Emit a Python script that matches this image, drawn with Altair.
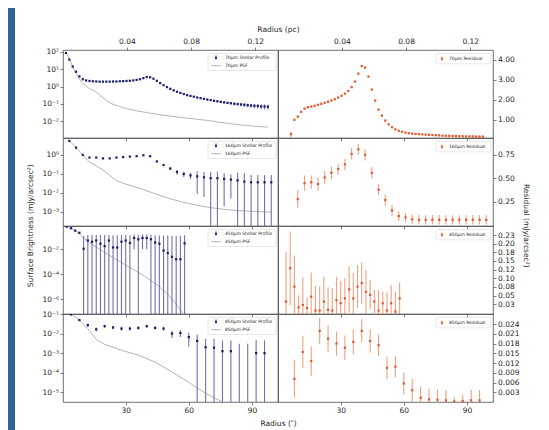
import altair as alt
import pandas as pd

# ---------------- data ----------------
X70 = [1.6, 3.2, 4.8, 6.4, 8.0, 9.6, 11.2, 12.8, 14.4, 16.0, 17.6, 19.2, 20.8, 22.4, 24.0,
       25.6, 27.2, 28.8, 30.4, 32.0, 33.6, 35.2, 36.8, 38.4, 40.0, 41.6, 43.2, 44.8, 46.4,
       48.0, 49.6, 51.2, 52.8, 54.4, 56.0, 57.6, 59.2, 60.8, 62.4, 64.0, 65.6, 67.2, 68.8,
       70.4, 72.0, 73.6, 75.2, 76.8, 78.4, 80.0, 81.6, 83.2, 84.8, 86.4, 88.0, 89.6, 91.2,
       92.8, 94.4, 96.0, 97.6]
S70 = [85.1, 35.5, 14.1, 7.08, 3.80, 2.63, 2.24, 2.09, 2.00, 1.95, 1.91, 1.91, 1.91, 1.91,
       1.95, 1.95, 2.00, 2.04, 2.09, 2.14, 2.24, 2.40, 2.63, 3.02, 3.47, 3.39, 2.82, 2.14,
       1.58, 1.20, 0.93, 0.74, 0.60, 0.50, 0.43, 0.37, 0.32, 0.29, 0.26, 0.234, 0.214, 0.195,
       0.178, 0.166, 0.151, 0.141, 0.132, 0.123, 0.115, 0.110, 0.102, 0.098, 0.093, 0.089,
       0.085, 0.081, 0.078, 0.076, 0.072, 0.071, 0.069]
E70 = [1.5, 0.7, 0.3, 0.15, 0.08, 0.05, 0.04, 0.04, 0.04, 0.04, 0.04, 0.04, 0.04, 0.04,
       0.04, 0.04, 0.04, 0.04, 0.04, 0.04, 0.04, 0.05, 0.05, 0.06, 0.07, 0.07, 0.06, 0.05,
       0.04, 0.03, 0.03, 0.02, 0.02, 0.02, 0.015, 0.015, 0.015, 0.013, 0.013, 0.013, 0.014,
       0.014, 0.014, 0.015, 0.015, 0.016, 0.016, 0.017, 0.017, 0.018, 0.018, 0.019, 0.019,
       0.02, 0.02, 0.021, 0.021, 0.022, 0.022, 0.023, 0.023]
PSF70_X = [1.6, 3.2, 4.8, 6.4, 8.0, 9.6, 11.2, 12.8, 14.4, 16.0, 17.6, 19.2, 20.8, 22.4,
           24.0, 27.2, 30.4, 35.2, 40.0, 46.4, 54.4, 62.4, 70.4, 78.4, 86.4, 94.4, 97.6]
PSF70 = [89, 40, 14.1, 5.6, 2.63, 1.51, 1.05, 0.76, 0.63, 0.48, 0.33, 0.224, 0.158, 0.12,
         0.095, 0.071, 0.054, 0.040, 0.032, 0.024, 0.0178, 0.0138, 0.0107, 0.0076, 0.0059,
         0.0049, 0.0046]
R70 = [0.27, 0.99, 1.15, 1.39, 1.55, 1.62, 1.65, 1.69, 1.74, 1.79, 1.84, 1.89, 1.95, 2.02,
       2.10, 2.19, 2.30, 2.43, 2.62, 2.90, 3.30, 3.68, 3.60, 3.15, 2.50, 1.95, 1.50, 1.20,
       0.95, 0.76, 0.62, 0.51, 0.44, 0.39, 0.35, 0.32, 0.30, 0.28, 0.27, 0.26, 0.25, 0.24,
       0.23, 0.22, 0.21, 0.20, 0.19, 0.19, 0.18, 0.18, 0.17, 0.17, 0.16, 0.16, 0.16, 0.15,
       0.15, 0.15]
RE70 = [0.15, 0.06, 0.05, 0.04, 0.04, 0.03, 0.03, 0.03, 0.03, 0.03, 0.03, 0.03, 0.03, 0.03,
        0.03, 0.03, 0.03, 0.03, 0.03, 0.03, 0.03, 0.04, 0.04, 0.03, 0.03, 0.03, 0.03, 0.03,
        0.03, 0.03, 0.03, 0.03, 0.03, 0.03, 0.03, 0.03, 0.03, 0.03, 0.03, 0.03, 0.03, 0.03,
        0.03, 0.03, 0.03, 0.03, 0.03, 0.03, 0.04, 0.04, 0.04, 0.04, 0.04, 0.04, 0.04, 0.04,
        0.04, 0.04]

X160 = [3.2, 6.4, 9.6, 12.8, 16.0, 19.2, 22.4, 25.6, 28.8, 32.0, 35.2, 38.4, 41.6, 44.8,
        48.0, 51.2, 54.4, 57.6, 60.8, 64.0, 67.2, 70.4, 73.6, 76.8, 80.0, 83.2, 86.4, 89.6,
        92.8, 96.0, 99.2]
S160 = [5.4, 2.4, 1.0, 0.72, 0.72, 0.65, 0.65, 0.72, 0.76, 0.81, 0.85, 0.95, 0.85, 0.45,
        0.29, 0.19, 0.125, 0.098, 0.083, 0.074, 0.066, 0.059, 0.059, 0.054, 0.050, 0.045,
        0.039, 0.036, 0.036, 0.036, 0.036]
E160 = [0.15, 0.07, 0.03, 0.02, 0.02, 0.02, 0.02, 0.02, 0.02, 0.02, 0.03, 0.03, 0.03, 0.03,
        0.03, 0.03, 0.035, 0.03, 0.03, 0.065, 0.06, 0.07, 0.07, 0.052, 0.045, 0.07, 0.07,
        0.05, 0.05, 0.05, 0.05]
PSF160_X = [3.2, 6.4, 9.6, 12.8, 16.0, 19.2, 22.4, 25.6, 28.8, 32.0, 38.4, 44.8, 51.2, 57.6,
            64.0, 70.4, 76.8, 83.2, 89.6, 96.0, 99.2]
PSF160 = [5.6, 2.5, 1.0, 0.42, 0.26, 0.16, 0.083, 0.044, 0.032, 0.025, 0.015, 0.0083,
          0.0048, 0.0032, 0.0022, 0.00166, 0.00135, 0.00117, 0.00107, 0.0010, 0.00098]
R160 = [0.28, 0.45, 0.46, 0.44, 0.51, 0.56, 0.60, 0.65, 0.76, 0.81, 0.75, 0.56, 0.38, 0.27,
        0.16, 0.10, 0.085, 0.065, 0.06, 0.06, 0.06, 0.06, 0.06, 0.06, 0.06, 0.06, 0.06, 0.06,
        0.06]
RE160 = [0.095, 0.08, 0.07, 0.07, 0.07, 0.07, 0.06, 0.06, 0.06, 0.06, 0.06, 0.06, 0.06,
         0.06, 0.06, 0.05, 0.05, 0.05, 0.05, 0.05, 0.05, 0.05, 0.05, 0.05, 0.05, 0.05, 0.05,
         0.05, 0.05]

X450 = [2, 4, 6, 8, 10, 12, 14, 16, 18, 20, 22, 24, 26, 28, 30, 32, 34, 36, 38, 40, 42, 44,
        46, 48, 50, 52, 54, 56, 58]
S450 = [0.65, 0.48, 0.31, 0.21, 0.011, 0.05, 0.04, 0.05, 0.028, 0.018, 0.05, 0.014, 0.014,
        0.04, 0.05, 0.032, 0.08, 0.063, 0.08, 0.08, 0.063, 0.035, 0.028, 0.008, 0.005,
        0.0025, 0.0016, 0.0016, 0.03]
E450 = [0.03, 0.03, 0.02, 0.02, 0.11, 0.09, 0.1, 0.09, 0.11, 0.12, 0.09, 0.12, 0.12, 0.1,
        0.09, 0.1, 0.07, 0.08, 0.07, 0.07, 0.08, 0.1, 0.1, 0.12, 0.12, 0.12, 0.12, 0.12, 0.1]
PSF450_X = [2, 4, 6, 8, 10, 14, 18, 22, 26, 30, 34, 38, 42, 46, 50, 54, 58]
PSF450 = [0.71, 0.5, 0.32, 0.18, 0.079, 0.025, 0.0089, 0.0035, 0.0014, 5.6e-4, 2.2e-4,
          8.9e-5, 3.2e-5, 1.0e-5, 2.5e-6, 4.0e-7, 5.0e-8]
R450 = [0.033, 0.129, 0.076, 0.016, 0.023, 0.014, 0.047, 0.007, 0.007, 0.033, 0.009, 0.007,
        0.037, 0.028, 0.042, 0.068, 0.042, 0.076, 0.086, 0.061, 0.052, 0.033, 0.007, 0.028,
        0.007, 0.028, 0.004, 0.042]
RE450 = [0.144, 0.106, 0.09, 0.035, 0.08, 0.031, 0.07, 0.071, 0.07, 0.072, 0.065, 0.065,
         0.068, 0.064, 0.058, 0.066, 0.073, 0.062, 0.06, 0.063, 0.043, 0.033, 0.06, 0.033,
         0.052, 0.053, 0.057, 0.045]

X850 = [4, 8, 12, 16, 20, 24, 28, 32, 36, 40, 44, 48, 52, 56, 60, 64, 68, 72, 76, 80, 84,
        88, 92, 96]
S850 = [0.095, 0.049, 0.027, 0.0166, 0.024, 0.0204, 0.018, 0.018, 0.0195, 0.024, 0.0195,
        0.018, 0.010, 0.0107, 0.0066, 0.0042, 0.002, 0.0019, 0.00126, 0.00126, -0.0004,
        -0.0004, 0.001, 0.001]
E850 = [0.006, 0.004, 0.005, 0.004, 0.004, 0.004, 0.004, 0.004, 0.004, 0.004, 0.004, 0.004,
        0.004, 0.004, 0.0045, 0.0046, 0.0035, 0.0036, 0.0032, 0.0032, 0.0034, 0.0034,
        0.0035, 0.0035]
PSF850_X = [4, 8, 12, 16, 20, 24, 28, 36, 44, 52, 60, 68, 76, 80]
PSF850 = [0.1, 0.05, 0.0178, 0.005, 0.0028, 0.002, 0.0014, 0.0008, 0.00035, 0.00011,
          3.2e-5, 8.9e-6, 3.2e-6, 1.6e-6]
R850 = [0.0071, 0.0154, 0.0126, 0.0219, 0.0195, 0.018, 0.0167, 0.0185, 0.0219, 0.0188,
        0.0175, 0.0105, 0.0109, 0.0057, 0.0036, 0.0013, 0.0008, 0.0007, 0.0005, 0.0002,
        0.0003, 0.0005, 0.0005]
RE850 = [0.0058, 0.005, 0.0045, 0.004, 0.0041, 0.0037, 0.0038, 0.0038, 0.0036, 0.0036,
         0.0034, 0.0034, 0.0033, 0.0034, 0.0035, 0.0035, 0.0033, 0.0032, 0.0032, 0.0013,
         0.002, 0.0032, 0.0032]

X_TICKS = [30, 60, 90]
PC_TICKS = [0.04, 0.08, 0.12]
SUP_LABELS = ['10⁻⁷', '10⁻⁶', '10⁻⁵', '10⁻⁴', '10⁻³', '10⁻²', '10⁻¹', '10⁰', '10¹', '10²']
R450_TICK_LABELS = ['0.03', '0.05', '0.08', '0.10', '0.12', '0.15', '0.18', '0.20', '0.23']

# ---------------- styling ----------------
FONT = "DejaVu Sans"
NAVY = "#1d1d6e"
NAVY_BAR = "#7070b0"
ORANGE = "#e4572e"
ORANGE_BAR = "#f2a07e"
PSF_GRAY = "#b5b5b5"
BLUE_BG = "#2d6496"
TXT = "#262626"
X_DOMAIN = [0.2, 102.4]
PC_PER_ARCSEC = 0.00131
PC_DOMAIN = [X_DOMAIN[0] * PC_PER_ARCSEC, X_DOMAIN[1] * PC_PER_ARCSEC]
W, H = 215, 88

SUP_EXPR = "[" + ",".join("'%s'" % s for s in SUP_LABELS) + "][round(log(datum.value)/LN10)+7]"
R450_EXPR = "[" + ",".join("'%s'" % s for s in R450_TICK_LABELS) + "][round(datum.value*40)-1]"


def xenc(show_labels):
    return alt.X('x:Q', scale=alt.Scale(domain=X_DOMAIN, nice=False, zero=False),
                 axis=alt.Axis(values=X_TICKS, labels=show_labels, title=None, orient='bottom'))


def top_axis_layer():
    mid = [(PC_DOMAIN[0] + PC_DOMAIN[1]) / 2]
    return alt.Chart(pd.DataFrame({'pc': mid})).mark_point(opacity=0, size=1).encode(
        x=alt.X('pc:Q', scale=alt.Scale(domain=PC_DOMAIN, nice=False, zero=False),
                axis=alt.Axis(orient='top', values=PC_TICKS, format='.2f', title=None)))


def one_row():
    return alt.Chart(pd.DataFrame({'k': [0]}))


def legend_left(lab1, lab2):
    b = one_row()
    return [
        b.mark_rect(fill='white', stroke='#d6d6d6', strokeWidth=0.6, cornerRadius=1.5).encode(
            x=alt.value(145), x2=alt.value(213), y=alt.value(3.5), y2=alt.value(20.5)),
        b.mark_rule(color=NAVY_BAR, strokeWidth=1).encode(
            x=alt.value(153), y=alt.value(5.2), y2=alt.value(10.2)),
        b.mark_square(color=NAVY, size=4, opacity=1).encode(x=alt.value(153), y=alt.value(7.7)),
        b.mark_rule(color=PSF_GRAY, strokeWidth=1).encode(
            x=alt.value(148), x2=alt.value(158), y=alt.value(15.7)),
        b.mark_text(align='left', baseline='middle', fontSize=4.5, font=FONT, color=TXT).encode(
            x=alt.value(162), y=alt.value(7.7), text=alt.value(lab1)),
        b.mark_text(align='left', baseline='middle', fontSize=4.5, font=FONT, color=TXT).encode(
            x=alt.value(162), y=alt.value(15.7), text=alt.value(lab2)),
    ]


def legend_right(lab):
    b = one_row()
    return [
        b.mark_rect(fill='white', stroke='#d6d6d6', strokeWidth=0.6, cornerRadius=1.5).encode(
            x=alt.value(158), x2=alt.value(213), y=alt.value(3.5), y2=alt.value(13.8)),
        b.mark_rule(color=ORANGE_BAR, strokeWidth=1).encode(
            x=alt.value(164), y=alt.value(6.2), y2=alt.value(11.2)),
        b.mark_square(color=ORANGE, size=4, opacity=1).encode(x=alt.value(164), y=alt.value(8.7)),
        b.mark_text(align='left', baseline='middle', fontSize=4.5, font=FONT, color=TXT).encode(
            x=alt.value(171), y=alt.value(8.7), text=alt.value(lab)),
    ]


def left_panel(lab, xs, vals, errs, px, pv, ydom, yticks, top, bottom):
    df = pd.DataFrame({'x': xs, 'v': vals, 'e': errs})
    df['hi'] = (df['v'] + df['e']).clip(upper=ydom[1])
    df['lo'] = (df['v'] - df['e']).clip(lower=ydom[0])
    pts = df[df['v'] > 0]
    psf = pd.DataFrame({'x': px, 'v': pv})
    ysc = alt.Scale(type='log', domain=ydom, nice=False)
    yax = alt.Axis(orient='left', values=yticks, labelExpr=SUP_EXPR, title=None)
    bars = alt.Chart(df).mark_rule(color=NAVY_BAR, strokeWidth=1.1, clip=True).encode(
        x=xenc(bottom), y=alt.Y('lo:Q', scale=ysc, axis=yax), y2='hi:Q')
    dots = alt.Chart(pts).mark_square(color=NAVY, size=5, opacity=1, clip=True).encode(
        x=xenc(bottom), y=alt.Y('v:Q', scale=ysc, axis=yax))
    line = alt.Chart(psf).mark_line(color=PSF_GRAY, strokeWidth=1, clip=True).encode(
        x=xenc(bottom), y=alt.Y('v:Q', scale=ysc, axis=yax))
    inner = alt.layer(line, bars, dots, *legend_left(lab + " Stellar Profile", lab + " PSF"))
    if top:
        return alt.layer(inner, top_axis_layer()).resolve_scale(x='independent').properties(
            width=W, height=H)
    return inner.properties(width=W, height=H)


def right_panel(lab, xs, vals, errs, ydom, yticks, yaxis_kw, top, bottom):
    df = pd.DataFrame({'x': xs, 'v': vals, 'e': errs})
    df['hi'] = df['v'] + df['e']
    df['lo'] = df['v'] - df['e']
    ysc = alt.Scale(domain=ydom, nice=False, zero=False)
    yax = alt.Axis(orient='right', values=yticks, title=None, **yaxis_kw)
    bars = alt.Chart(df).mark_rule(color=ORANGE_BAR, strokeWidth=1.1, clip=True).encode(
        x=xenc(bottom), y=alt.Y('lo:Q', scale=ysc, axis=yax), y2='hi:Q')
    dots = alt.Chart(df).mark_square(color=ORANGE, size=5, opacity=1, clip=True).encode(
        x=xenc(bottom), y=alt.Y('v:Q', scale=ysc, axis=yax))
    inner = alt.layer(bars, dots, *legend_right(lab + " Residual"))
    if top:
        return alt.layer(inner, top_axis_layer()).resolve_scale(x='independent').properties(
            width=W, height=H)
    return inner.properties(width=W, height=H)


panels = [
    left_panel("70μm", X70, S70, E70, PSF70_X, PSF70, [0.0011, 126],
               [0.01, 0.1, 1, 10, 100], True, False),
    right_panel("70μm", X70[3:], R70, RE70, [0.08, 4.48], [1, 2, 3, 4],
                {'format': '.2f'}, True, False),
    left_panel("160μm", X160, S160, E160, PSF160_X, PSF160, [1.8e-4, 7.7],
               [0.001, 0.01, 0.1, 1], False, False),
    right_panel("160μm", X160[2:], R160, RE160, [-0.006, 0.93], [0.25, 0.5, 0.75],
                {'format': '.2f'}, False, False),
    left_panel("450μm", X450, S450, E450, PSF450_X, PSF450, [6.6e-8, 0.73],
               [1e-6, 1e-4, 1e-2], False, False),
    right_panel("450μm", X450[1:], R450, RE450, [-0.003, 0.251],
                [0.025, 0.05, 0.075, 0.1, 0.125, 0.15, 0.175, 0.2, 0.225],
                {'labelExpr': R450_EXPR}, False, False),
    left_panel("850μm", X850, S850, E850, PSF850_X, PSF850, [3.2e-6, 0.1],
               [1e-5, 1e-4, 1e-3, 1e-2, 1e-1], False, True),
    right_panel("850μm", X850[1:], R850, RE850, [0.0, 0.0271],
                [0.003, 0.006, 0.009, 0.012, 0.015, 0.018, 0.021, 0.024],
                {'format': '.3f'}, False, True),
]

grid = alt.concat(*panels, columns=2, spacing=0, bounds='flush')
with_left = alt.hconcat(grid, spacing=0).properties(
    title=alt.TitleParams("Surface Brightness (mJy/arcsec²)", orient='left',
                          anchor='middle', offset=7))
with_right = alt.hconcat(with_left, spacing=0).properties(
    title=alt.TitleParams("Residual (mJy/arcsec²)", orient='right',
                          anchor='middle', offset=3))
with_top = alt.vconcat(with_right, spacing=0).properties(
    title=alt.TitleParams(["", "Radius (pc)"], anchor='middle', offset=4, lineHeight=14))
main = alt.vconcat(with_top, spacing=0).properties(
    title=alt.TitleParams("Radius (″)", orient='bottom', anchor='middle', offset=6))

strip = one_row().mark_rect(color=BLUE_BG).encode(
    x=alt.value(0), x2=alt.value(7), y=alt.value(-42), y2=alt.value(385)).properties(
    width=7, height=300, view=alt.ViewBackground(strokeOpacity=0))

chart = alt.hconcat(strip, main, spacing=12).properties(
    padding={'left': 0, 'top': 0, 'right': 5, 'bottom': 0}, background='white'
).configure_view(stroke='#4a4a4a', strokeWidth=0.8).configure_axis(
    labelFont=FONT, labelFontSize=7.5, labelColor=TXT, tickColor='#4a4a4a', tickSize=3,
    tickWidth=0.7, labelPadding=1.5, domain=False, grid=False
).configure_title(font=FONT, fontSize=7.5, fontWeight='normal', color=TXT)

chart.save("out.html", embed_options={"renderer": "svg", "actions": False})
